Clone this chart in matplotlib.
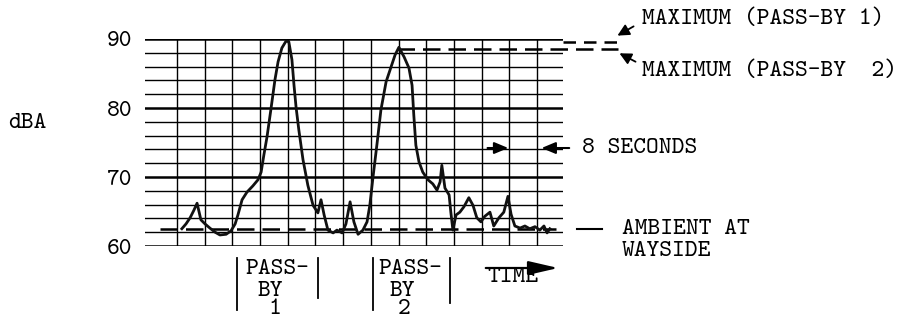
import os
import numpy as np
import matplotlib
matplotlib.use('Agg')
import matplotlib.pyplot as plt
from matplotlib.font_manager import FontProperties

# time (seconds) and level (dBA)
t_sec = [1.4, 2.6, 3.8, 4.9, 5.8, 6.4, 6.9, 8.1, 9.5, 11.0, 12.4, 14.2, 15.6, 16.8,
         17.6, 18.8, 20.2, 21.9, 23.4, 24.3, 25.1, 26.0, 27.1, 28.3, 29.2, 30.3,
         31.5, 32.3, 33.2, 33.8, 34.4, 35.2, 36.4, 37.8, 39.3, 40.7, 41.6, 42.5,
         43.6, 45.1, 46.2, 47.7, 48.8, 50.0, 51.1, 52.3, 53.7, 54.9, 55.7, 56.6,
         57.8, 58.9, 60.4, 61.8, 63.0, 64.1, 65.6, 67.0, 67.9, 68.4, 69.0, 69.9,
         71.0, 72.5, 73.9, 75.1, 76.0, 76.5, 77.4, 78.6, 79.1, 79.7, 80.6, 81.7,
         82.9, 84.3, 85.5, 86.6, 87.8, 88.9, 90.4, 91.5, 93.0, 94.4, 95.6, 96.5,
         97.6, 99.1, 100.5, 101.9, 103.4, 104.8, 106.0, 106.9, 107.7]
level_dba = [62.5, 63.2, 64.1, 65.2, 66.2, 64.9, 63.8, 63.2, 62.6, 62.0, 61.6, 61.7,
             62.2, 63.2, 64.5, 66.7, 67.8, 68.7, 69.6, 70.7, 73.2, 75.8, 79.7, 84.1,
             86.7, 88.7, 89.7, 89.6, 87.0, 83.3, 80.1, 76.8, 72.5, 68.8, 65.9, 64.8,
             66.7, 64.5, 62.3, 61.9, 62.3, 61.9, 63.2, 66.4, 63.5, 61.7, 62.3, 63.5,
             65.9, 69.9, 74.9, 79.7, 83.8, 85.9, 87.7, 88.8, 87.4, 85.8, 83.3, 79.0,
             74.6, 72.2, 70.7, 69.6, 69.0, 68.1, 69.3, 71.7, 68.4, 67.4, 64.9, 62.3,
             64.5, 64.9, 65.7, 67.0, 65.9, 64.1, 63.5, 64.3, 64.9, 62.9, 64.1, 64.9,
             67.2, 64.6, 62.9, 62.6, 62.9, 62.5, 62.8, 62.3, 62.9, 61.9, 62.5]

ambient = 62.4
max_pass1 = 89.6
max_pass2 = 88.6
y_labels = [60, 70, 80, 90]

W, H = 915, 331
FS = 17.5
tt_path = os.path.join(matplotlib.get_data_path(), 'fonts', 'ttf', 'cmtt10.ttf')
if os.path.exists(tt_path):
    FP = FontProperties(fname=tt_path, size=FS)
else:
    FP = FontProperties(family='DejaVu Sans Mono', size=FS)


def fx(px):
    return px / W


def fy(py):
    return 1 - py / H


fig = plt.figure(figsize=(W / 100, H / 100), dpi=100)
ax = fig.add_axes([fx(145), fy(246), fx(563) - fx(145), fy(39) - fy(246)])
ax.set_xlim(-9.24, 111.5)
ax.set_ylim(60, 90)
for s in ax.spines.values():
    s.set_visible(False)

# chart paper grid
for v in range(60, 91, 2):
    ax.axhline(v, color='black', lw=1.8 if v % 10 == 0 else 1.0, zorder=1)
for t in range(0, 105, 8):
    ax.axvline(t, color='black', lw=1.0, zorder=1)

ax.set_xticks([])
ax.set_yticks(y_labels)
ax.set_yticklabels([str(v) for v in y_labels], fontproperties=FP)
ax.tick_params(axis='y', length=0, pad=9)

# recorded level
ax.plot(t_sec, level_dba, color='#111111', lw=2.0, zorder=3, solid_joinstyle='round')

dash = (0, (7, 3.2))
ax.plot([-4.9, 109.5], [ambient, ambient], color='black', lw=1.8, ls=dash, zorder=2)
ax.plot([115.5, 122.7], [ambient, ambient], color='black', lw=1.5, clip_on=False)
ax.plot([111.5, 127.4], [max_pass1, max_pass1], color='black', lw=1.8, ls=(0, (5, 3.2)),
        clip_on=False)
ax.plot([63.5, 127.4], [max_pass2, max_pass2], color='black', lw=1.8, ls=dash,
        clip_on=False, zorder=2)

# 8 seconds marker
ax.annotate('', xy=(96.5, 74.2), xytext=(88.9, 74.2),
            arrowprops=dict(arrowstyle='-|>,head_length=0.6,head_width=0.25',
                            color='black', lw=1.5, mutation_scale=14),
            annotation_clip=False)
ax.annotate('', xy=(104.5, 74.2), xytext=(114.1, 74.2),
            arrowprops=dict(arrowstyle='-|>,head_length=0.6,head_width=0.25',
                            color='black', lw=1.5, mutation_scale=14),
            annotation_clip=False)

# arrows to the maxima
fig.add_artist(matplotlib.patches.FancyArrowPatch(
    (fx(636), fy(25)), (fx(615), fy(37)), transform=fig.transFigure,
    arrowstyle='-|>,head_length=0.5,head_width=0.25', mutation_scale=14,
    color='black', lw=1.3))
fig.add_artist(matplotlib.patches.FancyArrowPatch(
    (fx(638), fy(63)), (fx(617), fy(52)), transform=fig.transFigure,
    arrowstyle='-|>,head_length=0.5,head_width=0.25', mutation_scale=14,
    color='black', lw=1.3))

# time arrow
fig.add_artist(matplotlib.patches.FancyArrowPatch(
    (fx(483), fy(268)), (fx(561), fy(268)), transform=fig.transFigure,
    arrowstyle='-|>,head_length=1.3,head_width=0.3', mutation_scale=14,
    color='black', lw=1.6))

# pass-by brackets
for x0, y1 in [(237, 310), (318, 298), (373, 310), (450, 303)]:
    fig.add_artist(matplotlib.lines.Line2D([fx(x0), fx(x0)], [fy(258), fy(y1)],
                                           color='black', lw=1.3))


def label(px, py, s):
    fig.text(fx(px), fy(py), s, fontproperties=FP, ha='left', va='center')


label(8, 123, 'dBA')
label(642, 19, 'MAXIMUM (PASS-BY 1)')
label(642, 71, 'MAXIMUM (PASS-BY  2)')
label(582, 148, '8 SECONDS')
label(622, 230, 'AMBIENT AT')
label(622, 252, 'WAYSIDE')
label(245, 270, 'PASS-')
label(258, 291, 'BY')
label(268, 310, '1')
label(378, 270, 'PASS-')
label(390, 291, 'BY')
label(398, 310, '2')
label(487, 278, 'TIME')

fig.savefig('out.png', dpi=100, facecolor='white')
